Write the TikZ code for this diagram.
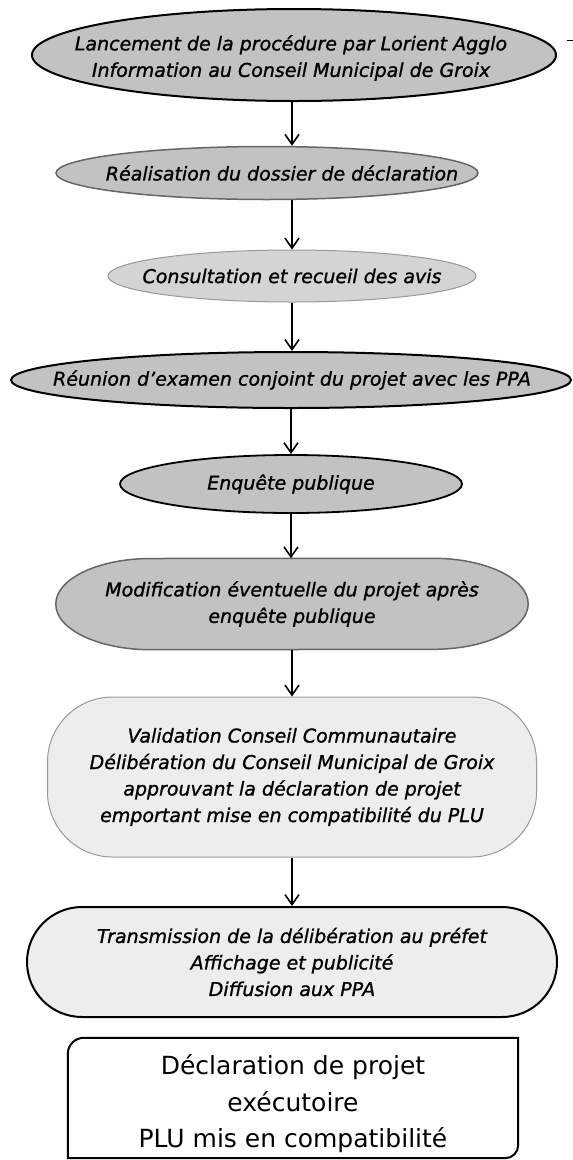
\documentclass[tikz,border=0pt]{standalone}
\usepackage{fontspec}
\setmainfont{DejaVu Sans}[ItalicFeatures={FakeBold=1.2}]
\usetikzlibrary{arrows.meta,shapes.geometric}
\definecolor{gdark}{HTML}{C2C2C2}
\definecolor{gmid}{HTML}{D4D4D4}
\definecolor{glight}{HTML}{EDEDED}
\tikzset{
  txt/.style={font=\itshape\fontsize{19}{26.5}\selectfont, align=center, inner sep=0pt},
  fintxt/.style={font=\fontsize{25}{36.5}\selectfont, align=center, inner sep=0pt},
  ellbase/.style={ellipse, inner sep=0pt},
  bdark/.style={draw=black, line width=2pt},
  bgray/.style={draw=black!60, line width=1.5pt},
  blight/.style={draw=black!40, line width=1pt},
  arr/.style={line width=1.8pt, -{Straight Barb[length=10pt,width=14pt,line width=1.6pt]}},
}
\begin{document}
\begin{tikzpicture}[x=1pt,y=-1pt]
\useasboundingbox[fill=white] (0,0) rectangle (573,1160);
% shapes
\node[ellbase, bdark, fill=gdark, minimum width=524pt, minimum height=92pt] (e1) at (294,55) {};
\node[txt] (t1) at (291,58) {Lancement de la procédure par Lorient Agglo\\Information au Conseil Municipal de Groix};
\node[ellbase, bgray, fill=gdark, minimum width=422pt, minimum height=53pt] (e2) at (267,173) {};
\node[txt] (t2) at (282,173) {Réalisation du dossier de déclaration};
\node[ellbase, blight, fill=gmid, minimum width=368pt, minimum height=52pt] (e3) at (292,276) {};
\node[txt] (t3) at (292,276) {Consultation et recueil des avis};
\node[ellbase, bdark, fill=gdark, minimum width=560pt, minimum height=56pt] (e4) at (291,380) {};
\node[txt] (t4) at (292,380) {Réunion d’examen conjoint du projet avec les PPA};
\node[ellbase, bdark, line width=1.8pt, fill=gdark, minimum width=342pt, minimum height=58pt] (e5) at (291,484) {};
\node[txt] (t5) at (291,484) {Enquête publique};
% Modification: rounded with elliptical corners
\node[minimum width=472pt, minimum height=91pt, inner sep=0pt] (e6) at (292,604) {};
\path[bgray, fill=gdark] (e6.west) arc[start angle=180, end angle=90, x radius=95pt, y radius=45.5pt]
  -- ([xshift=-95pt]e6.north east) arc[start angle=90, end angle=0, x radius=95pt, y radius=45.5pt]
  arc[start angle=0, end angle=-90, x radius=95pt, y radius=45.5pt]
  -- ([xshift=95pt]e6.south west) arc[start angle=270, end angle=180, x radius=95pt, y radius=45.5pt] -- cycle;
\node[txt] (t6) at (292,604) {Modification éventuelle du projet après\\enquête publique};
\node[blight, fill=glight, rounded corners=65pt, minimum width=489pt, minimum height=160pt, txt] (e7) at (292,777) {Validation Conseil Communautaire\\Délibération du Conseil Municipal de Groix\\approuvant la déclaration de projet\\emportant mise en compatibilité du PLU};
\node[bdark, fill=glight, rounded corners=55pt, minimum width=530pt, minimum height=110pt, txt] (e8) at (292,962) {Transmission de la délibération au préfet\\Affichage et publicité\\Diffusion aux PPA};
\node[minimum width=450pt, minimum height=120pt, inner sep=0pt] (fin) at (293,1098) {};
\node[fintxt] (fint) at (293,1104) {Déclaration de projet\\exécutoire\\PLU mis en compatibilité};
\draw[line width=2pt] (fin.south west) -- ([yshift=-16pt]fin.north west) arc[start angle=180, end angle=90, radius=16pt] -- (fin.north east) -- ([yshift=13pt]fin.south east) arc[start angle=0, end angle=-90, radius=13pt] -- cycle;
% connectors
\draw[arr] (e1.south -| e3.north) -- (e3.north |- e2.north);
\draw[arr] (e2.south -| e3.north) -- (e3.north);
\draw[arr] (e3.south) -- (e3.south |- e4.north);
\draw[arr] (e4.south) -- (e4.south |- e5.north);
\draw[arr] (e5.south) -- (e5.south |- e6.north);
\draw[arr] (e6.south) -- (e6.south |- e7.north);
\draw[arr] (e7.south) -- (e7.south |- e8.north);
% small mark at right
\coordinate (m1) at (567,40);
\coordinate (m2) at (573,40);
\draw[line width=1pt] (m1) -- (m2);
\end{tikzpicture}
\end{document}
